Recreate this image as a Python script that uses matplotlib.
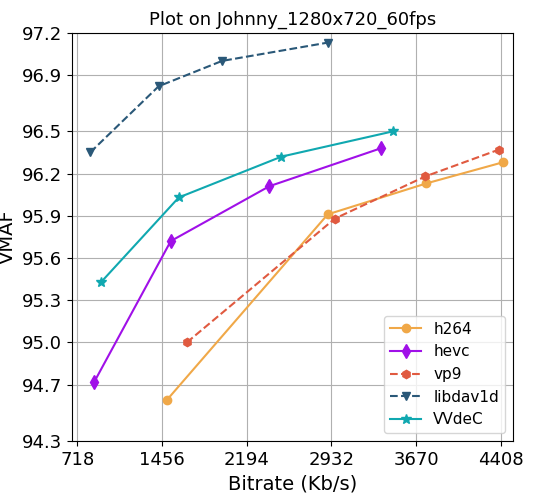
import matplotlib
matplotlib.use("Agg")
import matplotlib.pyplot as plt

xticks = [718, 1456, 2194, 2932, 3670, 4408]
yticks = [94.3, 94.7, 95.0, 95.3, 95.6, 95.9, 96.2, 96.5, 96.9, 97.2]

h264_x = [1498, 2900, 3759, 4426]
h264_y = [94.59, 95.91, 96.13, 96.28]
hevc_x = [867, 1533, 2392, 3365]
hevc_y = [94.72, 95.72, 96.11, 96.38]
vp9_x = [1673, 2962, 3751, 4391]
vp9_y = [95.00, 95.88, 96.18, 96.37]
dav1d_x = [832, 1428, 1980, 2900]
dav1d_y = [96.35, 96.82, 97.00, 97.13]
vvdec_x = [928, 1603, 2497, 3470]
vvdec_y = [95.43, 96.03, 96.32, 96.50]

fig, ax = plt.subplots(figsize=(5.34, 5.04), dpi=100)
ax.plot(h264_x, h264_y, '-o', color='#f0a848', label='h264', ms=6)
ax.plot(hevc_x, hevc_y, '-d', color='#a010e8', label='hevc', ms=7)
ax.plot(vp9_x, vp9_y, '--h', color='#e05a40', label='vp9', ms=6)
ax.plot(dav1d_x, dav1d_y, '--v', color='#2a5878', label='libdav1d', ms=6)
ax.plot(vvdec_x, vvdec_y, '-*', color='#10a8b0', label='VVdeC', ms=7)
ax.set_xticks(xticks)
ax.set_yticks(yticks)
ax.set_yticklabels([f"{v:.1f}" for v in yticks])
ax.set_xlim(674, 4510)
ax.set_ylim(94.3, 97.2)
ax.tick_params(labelsize=13)
ax.grid(True, color='#b0b0b0')
ax.set_xlabel('Bitrate (Kb/s)', fontsize=14)
ax.set_ylabel('VMAF', fontsize=14)
ax.set_title('Plot on Johnny_1280x720_60fps', fontsize=13)
ax.legend(loc='lower right', fontsize=11)
fig.subplots_adjust(left=0.135, right=0.96, top=0.935, bottom=0.125)
fig.savefig('out.png')
